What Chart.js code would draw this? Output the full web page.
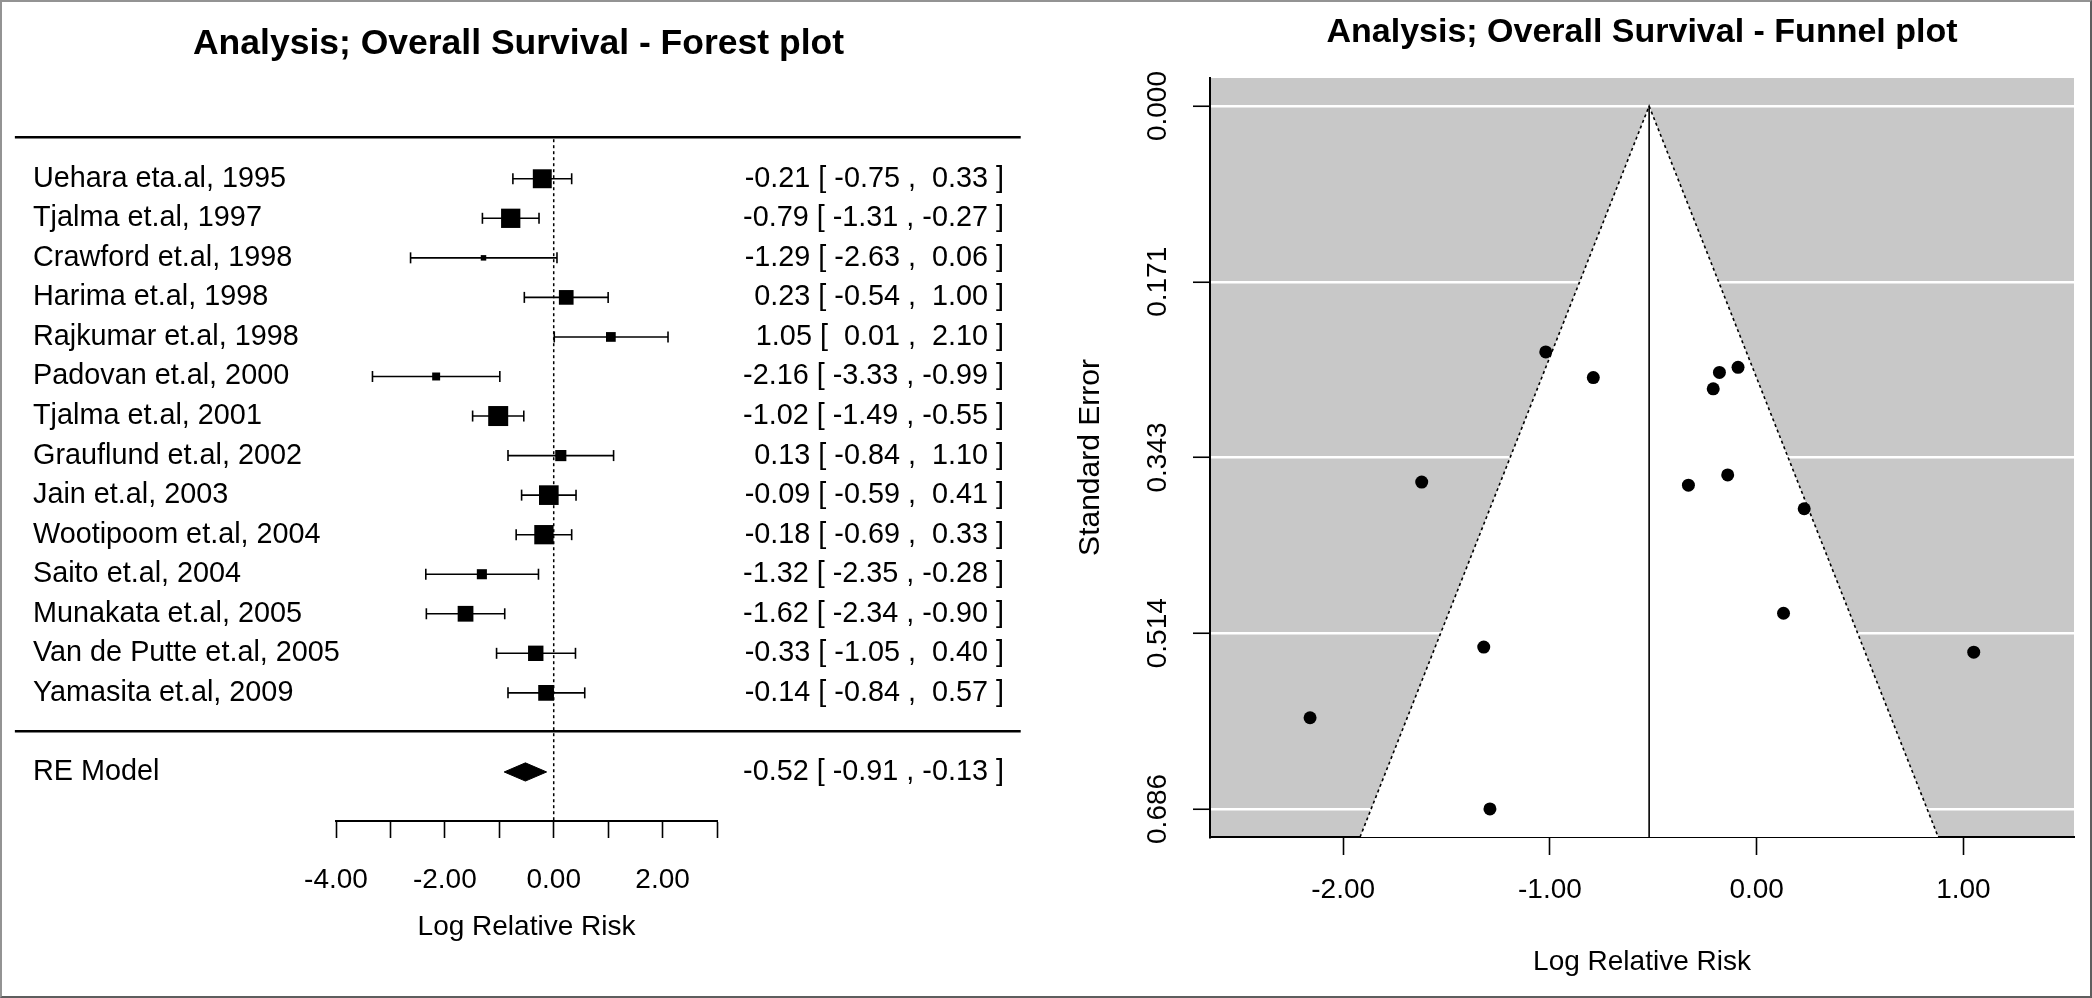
<!DOCTYPE html>
<html>
<head>
<meta charset="utf-8">
<script src="https://cdn.jsdelivr.net/npm/chart.js@4.4.1/dist/chart.umd.min.js"></script>
<style>
  html, body { margin: 0; padding: 0; background: #fff; }
  #wrap { position: relative; width: 2092px; height: 998px; overflow: hidden; background: #fff; }
  #wrap canvas { position: absolute; left: 0; top: 0; }
  #frame { position: absolute; left: 0; top: 0; width: 2092px; height: 998px; box-sizing: border-box;
           border: 2px solid #939393; border-right-color: #5e5e5e; border-bottom-color: #5e5e5e; pointer-events: none; }
</style>
</head>
<body>
<div id="wrap">
  <canvas id="forest" width="2092" height="998"></canvas>
  <canvas id="funnel" width="2092" height="998"></canvas>
  <div id="frame"></div>
</div>
<script>
// ---------------- data ----------------
const studies = [
  'Uehara eta.al, 1995', 'Tjalma et.al, 1997', 'Crawford et.al, 1998', 'Harima et.al, 1998',
  'Rajkumar et.al, 1998', 'Padovan et.al, 2000', 'Tjalma et.al, 2001', 'Grauflund et.al, 2002',
  'Jain et.al, 2003', 'Wootipoom et.al, 2004', 'Saito et.al, 2004', 'Munakata et.al, 2005',
  'Van de Putte et.al, 2005', 'Yamasita et.al, 2009'
];
const estimates = [-0.21, -0.79, -1.29, 0.23, 1.05, -2.16, -1.02, 0.13, -0.09, -0.18, -1.32, -1.62, -0.33, -0.14];
const lowerCI   = [-0.75, -1.31, -2.63, -0.54, 0.01, -3.33, -1.49, -0.84, -0.59, -0.69, -2.35, -2.34, -1.05, -0.84];
const upperCI   = [0.33, -0.27, 0.06, 1.00, 2.10, -0.99, -0.55, 1.10, 0.41, 0.33, -0.28, -0.90, 0.40, 0.57];
const weights   = [8.4, 8.5, 4.6, 7.2, 5.8, 5.3, 8.7, 6.2, 8.6, 8.5, 5.9, 7.5, 7.4, 7.5];   // study weight (%)
const standardErrors = [0.276, 0.265, 0.686, 0.393, 0.533, 0.597, 0.240, 0.495, 0.255, 0.260, 0.528, 0.367, 0.370, 0.360];

const pooledLabel = 'RE Model';
const pooledEstimate = -0.52;
const pooledLower = -0.91;
const pooledUpper = -0.13;

const forestXTicks = [-4, -3, -2, -1, 0, 1, 2, 3];
const forestXTickLabels = ['-4.00', '', '-2.00', '', '0.00', '', '2.00', ''];
const funnelXTicks = [-2, -1, 0, 1];
const funnelXTickLabels = ['-2.00', '-1.00', '0.00', '1.00'];
const funnelYTicks = [0, 0.1715, 0.343, 0.5145, 0.686];
const funnelYTickLabels = ['0.000', '0.171', '0.343', '0.514', '0.686'];

// ---------------- setup ----------------
Chart.defaults.font.family = "'Liberation Sans', Arial, Helvetica, sans-serif";
Chart.defaults.color = '#000';
const FS = 28;
const FS_ROW = 28.8;

function fmt(v) { return (v < 0 ? '' : ' ') + v.toFixed(2); }
function annot(e, l, u) { return fmt(e) + ' [ ' + fmt(l) + ' , ' + fmt(u) + ' ]'; }

const rowPos = studies.map((_, i) => studies.length - i);   // 14 .. 1
const pooledRow = -1;
const rowTicks = rowPos.concat([pooledRow]);
const rowLabels = studies.concat([pooledLabel]);
const annotLabels = estimates.map((e, i) => annot(e, lowerCI[i], upperCI[i]))
  .concat([annot(pooledEstimate, pooledLower, pooledUpper)]);

function squareSide(w) { return Math.max(4, 3.54 * w - 10.8); }

// ---------------- forest plot ----------------
const forestDatasets = [];
forestDatasets.push({
  data: estimates.map((e, i) => ({ x: e, y: rowPos[i] })),
  showLine: false,
  pointStyle: 'rect',
  pointRadius: ctx => squareSide(weights[ctx.dataIndex]) / Math.SQRT2,
  pointBackgroundColor: '#000',
  pointBorderWidth: 0,
  borderWidth: 0
});
studies.forEach((s, i) => {
  forestDatasets.push({
    data: [{ x: lowerCI[i], y: rowPos[i] }, { x: upperCI[i], y: rowPos[i] }],
    borderColor: '#000', borderWidth: 1.6,
    pointStyle: 'line', pointRotation: 90, pointRadius: 5.5,
    pointBorderColor: '#000', pointBorderWidth: 1.6, pointBackgroundColor: '#000'
  });
});
// summary diamond (upper half filled to lower half)
const diamondHalf = 0.23;
forestDatasets.push({
  data: [{ x: pooledLower, y: pooledRow }, { x: pooledEstimate, y: pooledRow + diamondHalf }, { x: pooledUpper, y: pooledRow }],
  borderColor: '#000', borderWidth: 1, backgroundColor: '#000', fill: '+1', pointRadius: 0
});
forestDatasets.push({
  data: [{ x: pooledLower, y: pooledRow }, { x: pooledEstimate, y: pooledRow - diamondHalf }, { x: pooledUpper, y: pooledRow }],
  borderColor: '#000', borderWidth: 1, fill: false, pointRadius: 0
});
// reference line at 0 (dotted)
const forestYMin = -2.24, forestYMax = 16.75;
forestDatasets.push({
  data: [{ x: 0, y: rowPos[0] + 1 }, { x: 0, y: forestYMin }],
  borderColor: '#000', borderWidth: 1.5, borderDash: [3, 3], pointRadius: 0
});
// horizontal separator rules
[rowPos[0] + 1.05, 0.03].forEach(yv => {
  forestDatasets.push({
    data: [{ x: -9.9, y: yv }, { x: 8.58, y: yv }],
    borderColor: '#000', borderWidth: 2.6, pointRadius: 0, clip: false
  });
});

const forestLeft = 33;        // left edge of study labels (px)
const forestYAxisWidth = 303; // so the plot area starts at x = -4

new Chart(document.getElementById('forest'), {
  type: 'line',
  data: { datasets: forestDatasets },
  options: {
    responsive: false, animation: false, devicePixelRatio: 1,
    events: [],
    layout: { padding: { left: forestLeft, right: 1088, top: 0, bottom: 0 } },
    plugins: {
      legend: { display: false }, tooltip: { enabled: false },
      title: { display: true, text: 'Analysis; Overall Survival - Forest plot',
               font: { size: 35.5, weight: 'bold' }, color: '#000', padding: { top: 22.7, bottom: 4.7 } }
    },
    scales: {
      x: {
        type: 'linear', position: 'bottom', min: -4, max: 3,
        afterBuildTicks: s => { s.ticks = forestXTicks.map(v => ({ value: v })); },
        afterFit: s => { s.height = 177; },
        grid: { display: true, drawOnChartArea: false, drawTicks: true, tickLength: 17, tickWidth: 1.6, tickColor: '#000', color: '#000' },
        border: { display: true, color: '#000', width: 2 },
        ticks: { autoSkip: false, minRotation: 0, maxRotation: 0, padding: 25, font: { size: FS }, color: '#000',
                 callback: (v, i) => forestXTickLabels[i] },
        title: { display: true, text: 'Log Relative Risk', font: { size: FS }, color: '#000', padding: { top: 0, bottom: 54 } }
      },
      y: {
        type: 'linear', position: 'left', min: forestYMin, max: forestYMax,
        afterBuildTicks: s => { s.ticks = rowTicks.map(v => ({ value: v })); },
        afterFit: s => { s.width = forestYAxisWidth; },
        grid: { display: false }, border: { display: false },
        // mirrored labels (not clipped to the axis box), pulled back to the left margin
        ticks: { autoSkip: false, mirror: true, crossAlign: 'near', padding: -forestYAxisWidth,
                 font: { size: FS_ROW }, color: '#000', callback: (v, i) => rowLabels[i] }
      },
      y2: {
        type: 'linear', position: 'right', min: forestYMin, max: forestYMax,
        afterBuildTicks: s => { s.ticks = rowTicks.map(v => ({ value: v })); },
        afterFit: s => { s.width = 287; },
        grid: { display: false }, border: { display: false },
        ticks: { autoSkip: false, crossAlign: 'far', font: { size: FS_ROW }, color: '#000',
                 callback: (v, i) => annotLabels[i] }
      }
    }
  }
});

// ---------------- funnel plot ----------------
const funnelYMin = -0.0274, funnelYMax = 0.7134;
const z = 1.96;
const funnelBg = {
  id: 'funnelBg',
  beforeDraw(chart) {
    const { ctx, chartArea: a } = chart;
    ctx.save();
    ctx.fillStyle = '#c8c8c8';
    ctx.fillRect(a.left, a.top, a.right - a.left, a.bottom - a.top);
    ctx.restore();
  }
};

new Chart(document.getElementById('funnel'), {
  type: 'line',
  data: {
    datasets: [
      {
        data: estimates.map((e, i) => ({ x: e, y: standardErrors[i] })),
        showLine: false, pointRadius: 6.5, pointBackgroundColor: '#000', pointBorderWidth: 0, borderWidth: 0
      },
      {
        data: [{ x: pooledEstimate, y: 0 }, { x: pooledEstimate, y: funnelYMax }],
        borderColor: '#000', borderWidth: 1.6, pointRadius: 0
      },
      {
        data: [{ x: pooledEstimate - z * funnelYMax, y: funnelYMax }, { x: pooledEstimate, y: 0 },
               { x: pooledEstimate + z * funnelYMax, y: funnelYMax }],
        borderColor: '#000', borderWidth: 1.6, borderDash: [3, 3], backgroundColor: '#fff',
        fill: { value: funnelYMax }, pointRadius: 0
      }
    ]
  },
  options: {
    responsive: false, animation: false, devicePixelRatio: 1,
    events: [],
    layout: { padding: { left: 1060, right: 18, top: 0, bottom: 0 } },
    plugins: {
      legend: { display: false }, tooltip: { enabled: false },
      title: { display: true, fullSize: false, text: 'Analysis; Overall Survival - Funnel plot',
               font: { size: 34, weight: 'bold' }, color: '#000', padding: { top: 12.6, bottom: 24.6 } }
    },
    scales: {
      x: {
        type: 'linear', position: 'bottom', min: -2.644, max: 1.535,
        afterBuildTicks: s => { s.ticks = funnelXTicks.map(v => ({ value: v })); },
        afterFit: s => { s.height = 161; },
        grid: { display: true, drawOnChartArea: false, drawTicks: true, tickLength: 18, tickWidth: 1.6, tickColor: '#000', color: '#000' },
        border: { display: true, color: '#000', width: 2 },
        ticks: { autoSkip: false, minRotation: 0, maxRotation: 0, padding: 18, font: { size: FS }, color: '#000',
                 callback: (v, i) => funnelXTickLabels[i] },
        title: { display: true, text: 'Log Relative Risk', font: { size: FS }, color: '#000', padding: { top: 0, bottom: 19 } }
      },
      y: {
        type: 'linear', position: 'left', reverse: true, min: funnelYMin, max: funnelYMax,
        afterBuildTicks: s => { s.ticks = funnelYTicks.map(v => ({ value: v })); },
        afterFit: s => { s.width = 150; },
        grid: { display: true, drawOnChartArea: true, color: '#ffffff', lineWidth: 2.5,
                drawTicks: true, tickLength: 17, tickWidth: 1.6, tickColor: '#000' },
        border: { display: true, color: '#000', width: 2 },
        ticks: { autoSkip: false, minRotation: 90, maxRotation: 90, crossAlign: 'center', padding: 0,
                 font: { size: FS }, color: '#000', callback: (v, i) => funnelYTickLabels[i] },
        title: { display: true, text: 'Standard Error', font: { size: 30 }, color: '#000', padding: { top: 13, bottom: 0 } }
      }
    }
  },
  plugins: [funnelBg]
});
</script>
</body>
</html>
